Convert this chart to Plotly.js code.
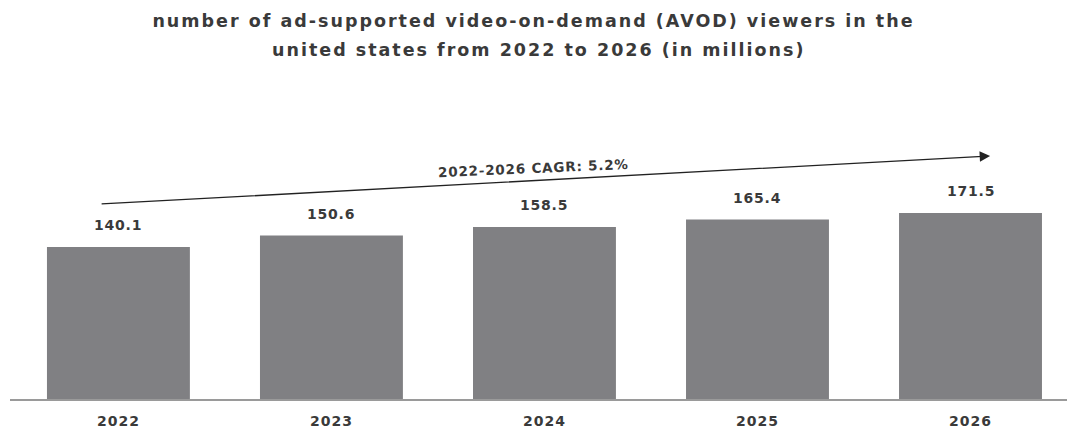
<!DOCTYPE html>
<html>
<head>
<meta charset="utf-8">
<script src="https://cdn.plot.ly/plotly-3.0.1.min.js"></script>
<style>
html,body{margin:0;padding:0;background:#fff;}
#chart{width:1067px;height:429px;}
.gtitle{letter-spacing:2px;}
.annotation-text{letter-spacing:0.8px;}
.subtitle-line .annotation-text{letter-spacing:2px;}
.xtick text{letter-spacing:1px;}
</style>
</head>
<body>
<div id="chart"></div>
<script>
const years = ['2022', '2023', '2024', '2025', '2026'];
const viewers = [140.1, 150.6, 158.5, 165.4, 171.5];
const valueLabels = ['140.1', '150.6', '158.5', '165.4', '171.5'];
const cagrLabel = '2022-2026 CAGR: 5.2%';
const titleLine1 = 'number of ad-supported video-on-demand (AVOD) viewers in the';
const titleLine2 = 'united states from 2022 to 2026 (in millions)';

const textColor = '#3a3a3a';
const barColor = '#808083';
const titleFont = {family: 'DejaVu Sans', size: 17.5, color: textColor, weight: 'bold'};

const trace = {
  type: 'bar',
  x: years.map((_, i) => i),
  y: viewers,
  marker: {color: barColor},
  hoverinfo: 'none'
};

const annotations = viewers.map((v, i) => ({
  x: i, y: v, xref: 'x', yref: 'y',
  text: valueLabels[i], showarrow: false,
  yanchor: 'bottom', yshift: 12,
  font: {family: 'DejaVu Sans', size: 14, color: textColor, weight: 'bold'}
}));

// CAGR arrow from first bar region to last bar region
annotations.push({
  x: 4.092, y: 224, xref: 'x', yref: 'y',
  ax: -0.086, ay: 179.7, axref: 'x', ayref: 'y',
  text: '', showarrow: true, arrowhead: 2, arrowsize: 1.6, arrowwidth: 1.3,
  arrowcolor: '#222'
});
annotations.push({
  x: 1.95, y: 212.5, xref: 'x', yref: 'y',
  text: cagrLabel, showarrow: false, textangle: -2.5,
  font: {family: 'DejaVu Sans', size: 13.5, color: textColor, weight: 'bold'}
});
// second title line
annotations.push({
  x: 0.5, y: 1.167, xref: 'paper', yref: 'paper',
  xanchor: 'center', yanchor: 'middle',
  text: titleLine2, showarrow: false, font: titleFont
});

const layout = {
  width: 1067, height: 429,
  margin: {l: 10, r: 0, t: 100, b: 30},
  paper_bgcolor: '#fff', plot_bgcolor: '#fff',
  title: {
    text: titleLine1, x: 0.5, xanchor: 'center', y: 0.966, yanchor: 'top',
    font: titleFont
  },
  bargap: 0.329,
  showlegend: false,
  xaxis: {
    range: [-0.509, 4.453],
    tickmode: 'array', tickvals: years.map((_, i) => i), ticktext: years,
    showgrid: false, zeroline: false,
    showline: true, linecolor: '#9a9a9a', linewidth: 1.5,
    ticks: '', ticklen: 0, ticklabelstandoff: 9,
    tickfont: {family: 'DejaVu Sans', size: 14, color: textColor, weight: 'bold'},
    fixedrange: true
  },
  yaxis: {
    range: [0, 275.6], visible: false, showgrid: false, zeroline: false, fixedrange: true
  },
  annotations: annotations
};

Plotly.newPlot('chart', [trace], layout, {staticPlot: true, displayModeBar: false}).then(() => {
  const texts = document.querySelectorAll('.annotation');
  texts.forEach(a => {
    const t = a.querySelector('.annotation-text');
    if (t && t.textContent === titleLine2) a.classList.add('subtitle-line');
  });
});
</script>
</body>
</html>
